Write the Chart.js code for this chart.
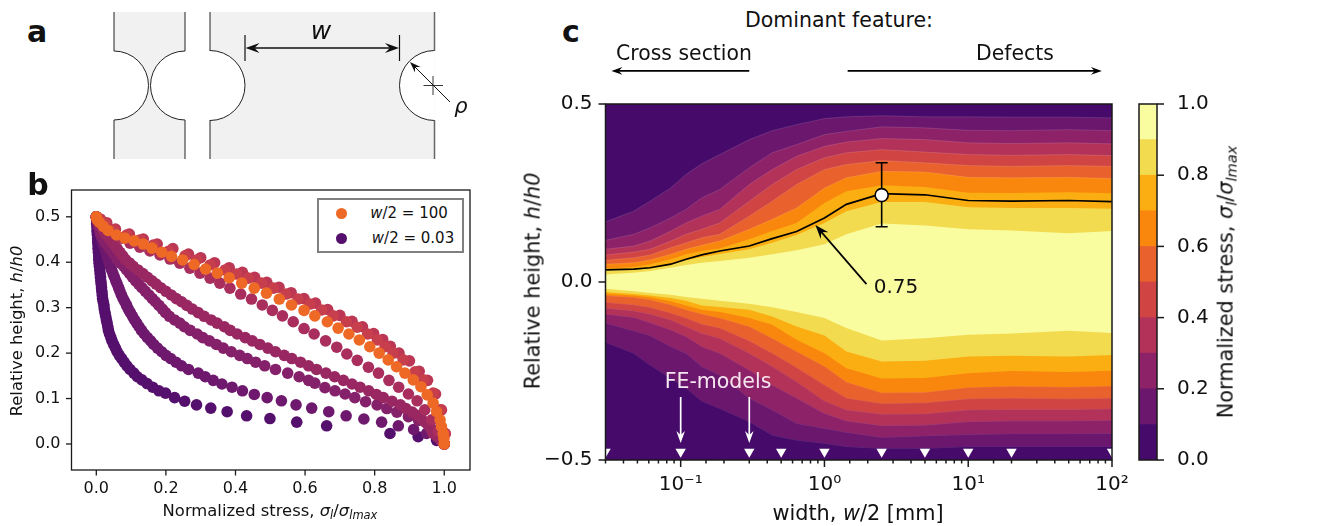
<!DOCTYPE html>
<html><head><meta charset="utf-8">
<script src="https://cdn.jsdelivr.net/npm/chart.js"></script>
<style>
html,body{margin:0;padding:0;background:#fff;width:1331px;height:526px;overflow:hidden}
canvas{position:absolute}
.t{position:absolute;font-family:"DejaVu Sans";color:#111;white-space:nowrap;transform:translate(-50%,-50%);line-height:1}
.r{transform:translate(-50%,-50%) rotate(-90deg)}
.t sub{font-size:.7em;vertical-align:-.25em;line-height:0}
#lg{position:absolute;left:317px;top:198px;width:143px;height:51px;border:2px solid #808080;background:#fff;z-index:3}
.dot{position:absolute;width:11px;height:11px;border-radius:50%}
</style></head><body>
<canvas id="ca" style="left:100px;top:0" width="380" height="170"></canvas>
<canvas id="cb" style="left:0;top:170px" width="480" height="356"></canvas>
<canvas id="cc" style="left:520px;top:60px" width="620" height="466"></canvas>
<canvas id="cd" style="left:1130px;top:90px" width="110" height="390"></canvas>
<div id="lg"><span class="dot" style="left:17px;top:8px;background:#ed6925"></span><span class="dot" style="left:17px;top:33px;background:#550f6d"></span>
<span class="t" style="left:90px;top:13px;font-size:15px"><i>w</i>/2 = 100</span><span class="t" style="left:94px;top:38px;font-size:15px"><i>w</i>/2 = 0.03</span></div>
<div id="texts"></div>
<script>
// ---------- panel b: stress profile series ----------
const bXTicks=[0,0.2,0.4,0.6,0.8,1.0], bYTicks=[0,0.1,0.2,0.3,0.4,0.5];
const s003x=[1,.978,.925,.844,.662,.576,.499,.432,.376,.329,.288,.254,.225,.199,.18,.162,.146,.131,.118,.108,.097,.088,.08,.073,.066,.06,.055,.05,.045,.042,.038,.035,.033,.031,.029,.027,.025,.023,.022,.02,.018,.017,.016,.015,.014,.013,.012,.011,.01,.009,.008,.007,.007,.006,.005,.005,.004,.004,.003,.002,.002,.001,.001,0];
const s003y=[0,.008,.016,.023,.04,.048,.056,.062,.071,.079,.086,.094,.102,.112,.117,.125,.133,.141,.148,.156,.164,.172,.18,.188,.195,.203,.211,.219,.227,.234,.242,.25,.258,.266,.273,.281,.289,.297,.305,.313,.32,.328,.336,.344,.352,.359,.367,.375,.383,.391,.398,.406,.414,.422,.43,.438,.445,.453,.461,.469,.477,.484,.492,.5];
const s01x=[0,.002,.004,.006,.009,.012,.015,.018,.021,.025,.028,.031,.034,.037,.04,.044,.048,.052,.056,.06,.064,.068,.072,.077,.082,.087,.092,.098,.104,.11,.116,.123,.13,.138,.147,.156,.165,.176,.188,.2,.214,.229,.245,.265,.293,.313,.336,.361,.39,.42,.454,.491,.532,.574,.619,.668,.718,.769,.82,.868,.912,.949,.978,.995,1];
const s01y=[.5,.492,.484,.477,.469,.461,.453,.445,.438,.43,.422,.414,.406,.398,.391,.383,.375,.367,.359,.352,.344,.336,.328,.32,.313,.305,.297,.289,.281,.273,.266,.258,.25,.242,.234,.227,.219,.211,.203,.195,.188,.18,.172,.164,.156,.148,.14,.132,.125,.117,.109,.102,.095,.086,.079,.071,.062,.055,.048,.04,.032,.023,.016,.008,0];
const s03x=[0,.002,.005,.008,.011,.013,.019,.025,.031,.039,.047,.054,.061,.07,.079,.087,.096,.104,.113,.122,.131,.141,.151,.161,.17,.18,.19,.199,.21,.225,.24,.253,.27,.29,.306,.325,.345,.365,.388,.412,.434,.458,.484,.515,.55,.583,.61,.628,.657,.686,.715,.743,.774,.807,.835,.864,.897,.926,.955,.975,.99,1];
const s03y=[.5,.492,.484,.477,.469,.461,.453,.445,.438,.43,.422,.414,.406,.398,.391,.383,.375,.367,.359,.352,.344,.336,.328,.32,.313,.305,.297,.289,.281,.273,.266,.258,.25,.242,.234,.227,.219,.211,.203,.195,.188,.18,.172,.164,.156,.148,.14,.134,.124,.117,.11,.102,.093,.086,.078,.07,.06,.052,.04,.03,.016,0];
const s1x=[0,.005,.01,.015,.021,.028,.036,.045,.052,.06,.068,.076,.084,.096,.106,.12,.134,.147,.16,.172,.185,.2,.215,.23,.245,.26,.276,.293,.31,.33,.347,.368,.385,.405,.428,.448,.47,.493,.515,.54,.562,.587,.61,.633,.66,.685,.71,.735,.758,.783,.805,.825,.85,.874,.89,.908,.922,.935,.947,.957,.963,.968,.98,.99,1];
const s1y=[.5,.492,.484,.477,.469,.461,.453,.445,.438,.43,.422,.414,.406,.398,.391,.383,.375,.367,.359,.352,.344,.336,.328,.32,.313,.305,.297,.289,.281,.273,.266,.258,.25,.242,.234,.227,.219,.211,.203,.195,.188,.18,.172,.164,.156,.148,.14,.132,.125,.117,.109,.102,.094,.086,.078,.07,.063,.055,.047,.039,.031,.023,.016,.008,0];
const s25x=[0,.01,.025,.049,.073,.097,.125,.154,.183,.212,.24,.269,.298,.327,.355,.384,.415,.446,.477,.506,.535,.566,.597,.626,.659,.691,.72,.75,.782,.811,.841,.869,.897,.922,.944,.964,.983,1];
const s25y=[.5,.49,.479,.464,.453,.442,.433,.425,.416,.407,.398,.387,.376,.365,.354,.343,.33,.319,.306,.294,.282,.269,.254,.242,.227,.213,.198,.184,.169,.156,.14,.125,.11,.095,.075,.053,.027,0];
const s20x=[0,.012,.03,.055,.095,.135,.175,.22,.265,.3,.34,.382,.42,.455,.49,.525,.56,.597,.63,.665,.7,.735,.765,.797,.823,.845,.87,.9,.928,.952,.975,.992,1.003,1];
const s20y=[.5,.495,.487,.473,.462,.451,.44,.43,.418,.41,.399,.388,.378,.367,.356,.345,.333,.32,.31,.296,.283,.27,.258,.243,.23,.215,.2,.183,.16,.14,.11,.075,.023,0];
const s10x=[0,.01,.025,.049,.087,.125,.164,.207,.255,.288,.327,.37,.403,.437,.475,.509,.545,.58,.614,.648,.681,.719,.75,.78,.808,.83,.853,.882,.916,.94,.968,.988,1.002,1];
const s10y=[.5,.493,.486,.471,.46,.449,.438,.424,.414,.405,.394,.383,.374,.365,.354,.343,.33,.319,.308,.295,.282,.269,.257,.242,.229,.214,.2,.185,.159,.141,.112,.075,.023,0];
const s100x=[1,.999,.997,.992,.988,.978,.968,.951,.933,.911,.887,.863,.839,.813,.786,.756,.726,.695,.664,.628,.597,.561,.526,.489,.454,.418,.382,.348,.314,.281,.248,.216,.188,.16,.135,.109,.082,.058,.034,.02,.009,.003,0];
const s100y=[0,.012,.023,.038,.053,.071,.09,.108,.126,.141,.156,.17,.185,.2,.214,.229,.242,.255,.269,.282,.294,.306,.319,.332,.343,.354,.366,.376,.385,.395,.405,.413,.422,.431,.44,.447,.453,.46,.47,.479,.488,.493,.5];
const profiles=[[s003x,s003y,'#550f6d'],[s01x,s01y,'#6e186e'],[s03x,s03y,'#85206a'],[s1x,s1y,'#992762'],[s25x,s25y,'#a92e5e'],[s20x,s20y,'#bb3754'],[s10x,s10y,'#c73e4c'],[s100x,s100y,'#ed6925']];

// ---------- panel c: filled contours (boundaries of each stress level) ----------
const widths=[.03,.0472,.0612,.0852,.109,.14,.187,.3,.433,.64,1,1.42,2.5,5,10,20,50,100];
const levelColors=['#460b6a','#6b176e','#8e2269','#b2325a','#d04544','#e9612c','#fa870d','#fbae12','#f3db4f','#fafca0'];
const top0=[.5,.5,.5,.5,.5,.5,.5,.5,.5,.5,.5,.5,.5,.5,.5,.5,.5,.5];
const bot0=[-.5,-.5,-.5,-.5,-.5,-.5,-.5,-.5,-.5,-.5,-.5,-.5,-.5,-.5,-.5,-.5,-.5,-.5];
const top1=[.169,.199,.227,.264,.302,.332,.358,.4,.425,.442,.459,.464,.467,.464,.464,.463,.463,.461];
const top2=[.117,.134,.152,.18,.204,.236,.26,.321,.363,.386,.414,.423,.436,.433,.426,.425,.428,.425];
const top3=[.092,.101,.115,.143,.166,.185,.204,.274,.316,.353,.381,.393,.403,.4,.391,.389,.391,.388];
const top4=[.076,.084,.092,.115,.134,.148,.166,.227,.274,.316,.349,.363,.372,.365,.358,.356,.358,.355];
const top5=[.061,.068,.076,.096,.11,.124,.134,.185,.227,.274,.316,.33,.341,.335,.327,.325,.327,.325];
const top6=[.05,.054,.062,.078,.092,.103,.115,.148,.176,.208,.264,.293,.311,.309,.294,.293,.294,.291];
const top7=[.038,.042,.05,.064,.078,.087,.094,.12,.143,.166,.222,.255,.272,.267,.251,.25,.252,.249];
const top8=[.033,.036,.038,.048,.061,.07,.079,.092,.11,.132,.166,.199,.225,.225,.21,.208,.208,.206];
const top9=[.021,.026,.031,.04,.048,.054,.059,.068,.078,.089,.106,.134,.164,.159,.148,.145,.137,.143];
const bot9=[-.019,-.026,-.031,-.036,-.042,-.047,-.053,-.061,-.071,-.084,-.101,-.129,-.164,-.158,-.148,-.145,-.137,-.143];
const bot8=[-.028,-.034,-.038,-.045,-.053,-.066,-.07,-.078,-.097,-.125,-.15,-.195,-.223,-.221,-.209,-.207,-.209,-.205];
const bot7=[-.033,-.038,-.043,-.054,-.066,-.078,-.084,-.101,-.12,-.162,-.2,-.242,-.271,-.27,-.256,-.25,-.253,-.249];
const bot6=[-.038,-.043,-.05,-.064,-.078,-.09,-.101,-.125,-.158,-.195,-.237,-.281,-.311,-.31,-.296,-.293,-.295,-.292];
const bot5=[-.057,-.064,-.071,-.087,-.101,-.118,-.129,-.165,-.2,-.24,-.289,-.326,-.341,-.339,-.328,-.326,-.328,-.326];
const bot4=[-.073,-.081,-.09,-.106,-.125,-.144,-.158,-.2,-.237,-.28,-.334,-.359,-.371,-.37,-.359,-.358,-.358,-.356];
const bot3=[-.09,-.099,-.114,-.134,-.153,-.181,-.2,-.247,-.289,-.326,-.369,-.39,-.403,-.402,-.392,-.39,-.39,-.388];
const bot2=[-.115,-.137,-.15,-.181,-.2,-.237,-.261,-.326,-.359,-.397,-.411,-.422,-.436,-.432,-.428,-.426,-.426,-.425];
const bot1=[-.169,-.2,-.233,-.27,-.298,-.334,-.355,-.392,-.43,-.444,-.453,-.462,-.467,-.467,-.462,-.462,-.462,-.462];
const tops=[top0,top1,top2,top3,top4,top5,top6,top7,top8,top9];
const bots=[bot0,bot1,bot2,bot3,bot4,bot5,bot6,bot7,bot8,bot9];
const line075=[.034,.036,.04,.05,.064,.076,.087,.101,.122,.142,.18,.218,.248,.245,.229,.227,.229,.226];
const feWidths=[.03,.1,.3,.5,1,2.5,5,10,20,100];
const feMarkerY=[-.477,-.477,-.477,-.477,-.477,-.477,-.477,-.477,-.477,-.477];
const errX=[2.5,2.5], errY=[.155,.335];
const markX=[2.5], markY=[.244];
const cYTicks=[-.5,0,.5];
const cXExponentLabels={'-1':'10⁻¹','0':'10⁰','1':'10¹','2':'10²'};
// annotation arrows in data units: x0,y0 -> x1,y1
const cArrows=[[.1,-.323,.1,-.452,'#fff',12],[.3,-.323,.3,-.452,'#fff',12],[1.96,-.006,.865,.16,'#000',14],[.3,.593,.033,.593,'#000',11],[1.45,.593,85,.593,'#000',11]];
// ---------- colour bar ----------
const cbSteps=[.1,.1,.1,.1,.1,.1,.1,.1,.1,.1];
const cbTicks=[0,.2,.4,.6,.8,1];
// ---------- panel a schematic geometry (drawing units) ----------
const aPieces=[[114,185],[210,434.5]];
const aTop=12,aBot=159,aMid=85.5,aR=[34.5,34.5,35,35],aNotchStart=51,aNotchEnd=120;

const FONT='"DejaVu Sans"';
function arrow(ctx,x0,y0,x1,y1,color,len,lw){
  const a=Math.atan2(y1-y0,x1-x0);
  ctx.save();ctx.strokeStyle=color;ctx.fillStyle=color;ctx.lineWidth=lw||1.7;
  ctx.beginPath();ctx.moveTo(x0,y0);ctx.lineTo(x1-Math.cos(a)*len*.5,y1-Math.sin(a)*len*.5);ctx.stroke();
  ctx.translate(x1,y1);ctx.rotate(a);
  ctx.beginPath();ctx.moveTo(0,0);ctx.lineTo(-len,-len*.36);ctx.lineTo(-len*.65,0);ctx.lineTo(-len,len*.36);ctx.closePath();ctx.fill();
  ctx.restore();
}
const frameTicks={id:'frameTicks',afterDraw(chart,_a,o){
  const c=chart.ctx,A=chart.chartArea;c.save();
  c.strokeStyle='#1a1a1a';c.lineWidth=o.lw||1.3;
  c.strokeRect(A.left,A.top,A.right-A.left,A.bottom-A.top);
  for(const id of Object.keys(chart.scales)){
    const s=chart.scales[id];if(!s.options.display)continue;
    s.ticks.forEach((t,i)=>{
      const isLog=s.type==='logarithmic';
      const maj=!isLog||Math.abs(Math.log10(t.value)-Math.round(Math.log10(t.value)))<1e-9;
      const L=maj?o.major:o.minor,p=s.getPixelForTick(i);
      c.beginPath();
      if(s.isHorizontal()){c.moveTo(p,A.bottom);c.lineTo(p,A.bottom+L);}
      else if(s.position==='right'){c.moveTo(A.right,p);c.lineTo(A.right+L,p);}
      else{c.moveTo(A.left,p);c.lineTo(A.left-L,p);}
      c.stroke();
    });
  }
  c.restore();
}};
const base={responsive:false,animation:false,events:[],plugins:{legend:{display:false},tooltip:{enabled:false}}};
function noPad(s){s.paddingLeft=0;s.paddingRight=0;s.paddingTop=0;s.paddingBottom=0;}
function fit(v){return function(s){s.width=v;noPad(s);};}
function fitH(v){return function(s){s.height=v;noPad(s);};}

// panel a
new Chart(document.getElementById('ca'),{type:'scatter',data:{datasets:[]},options:{...base,
  layout:{padding:0},
  scales:{x:{type:'linear',display:false,min:100,max:480},y:{type:'linear',display:false,min:0,max:170,reverse:true}}},
  plugins:[{id:'schem',afterDraw(chart){
    const c=chart.ctx,X=chart.scales.x,Y=chart.scales.y,sx=v=>X.getPixelForValue(v),sy=v=>Y.getPixelForValue(v);
    c.save();
    c.fillStyle='#f1f1f1';
    aPieces.forEach(p=>c.fillRect(sx(p[0]),sy(aTop),sx(p[1])-sx(p[0]),sy(aBot)-sy(aTop)));
    const notch=[[aPieces[0][0],aR[0],-Math.PI/2,Math.PI/2],[aPieces[0][1],aR[1],Math.PI/2,1.5*Math.PI],[aPieces[1][0],aR[2],-Math.PI/2,Math.PI/2],[aPieces[1][1],aR[3],Math.PI/2,1.5*Math.PI]];
    c.fillStyle='#fff';
    notch.forEach(n=>{c.beginPath();c.arc(sx(n[0]),sy(aMid),n[1],n[2],n[3]);c.closePath();c.fill();});
    c.strokeStyle='#222';c.lineWidth=1;
    notch.forEach(n=>{c.beginPath();c.arc(sx(n[0]),sy(aMid),n[1],n[2],n[3]);c.stroke();});
    aPieces.flat().forEach((e,i)=>{c.strokeStyle=i===3?'#666':'#222';c.lineWidth=i===3?1.5:1;c.beginPath();c.moveTo(sx(e),sy(aTop));c.lineTo(sx(e),sy(aNotchStart));c.moveTo(sx(e),sy(aNotchEnd));c.lineTo(sx(e),sy(aBot));c.stroke();});
    c.strokeStyle='#111';c.lineWidth=1.2;
    [245,399.5].forEach(e=>{c.beginPath();c.moveTo(sx(e),sy(35));c.lineTo(sx(e),sy(61));c.stroke();});
    arrow(c,sx(322),sy(48),sx(245.5),sy(48),'#111',14,1.3);
    arrow(c,sx(322),sy(48),sx(399),sy(48),'#111',14,1.3);
    c.strokeStyle='#222';c.lineWidth=.9;
    c.beginPath();c.moveTo(sx(423.5),sy(85.5));c.lineTo(sx(443),sy(85.5));c.moveTo(sx(433),sy(76));c.lineTo(sx(433),sy(95));c.stroke();
    arrow(c,sx(450),sy(102),sx(410),sy(62),'#111',11,1);
    c.restore();
  }}]});

// panel b
new Chart(document.getElementById('cb'),{type:'scatter',
  data:{datasets:profiles.map((p,i)=>({data:p[0].map((x,j)=>({x,y:p[1][j]})),backgroundColor:p[2],pointRadius:5.8,pointBorderWidth:0,showLine:false,order:10-i,clip:false}))},
  options:{...base,layout:{padding:{top:20,right:10}},plugins:{...base.plugins,frameTicks:{major:5.5,minor:3,lw:1.3}},
    scales:{
      x:{type:'linear',min:-.0713,max:1.074,grid:{display:false,tickLength:6},border:{display:false},afterFit:fitH(56),
         afterBuildTicks(s){s.ticks=bXTicks.map(value=>({value}));},
         ticks:{font:{family:FONT,size:16},color:'#111',padding:3,maxRotation:0,autoSkip:false,callback:v=>v.toFixed(1)}},
      y:{type:'linear',min:-.0573,max:.559,grid:{display:false,tickLength:6},border:{display:false},afterFit:fit(71.5),
         afterBuildTicks(s){s.ticks=bYTicks.map(value=>({value}));},
         ticks:{font:{family:FONT,size:16},color:'#111',padding:5,autoSkip:false,callback:v=>v.toFixed(1)}}
    }},plugins:[frameTicks]});

// panel c
const pts=a=>widths.map((x,i)=>({x,y:a[i]}));
const cSets=[];
tops.forEach((t,k)=>{
  const idx=cSets.length;
  const edge=k>0&&k<=6?'rgba(255,255,255,.22)':'rgba(0,0,0,0)';
  cSets.push({type:'line',data:pts(t),fill:idx+1,backgroundColor:levelColors[k],borderColor:edge,borderWidth:.6,pointRadius:0,tension:0,order:100-k});
  cSets.push({type:'line',data:pts(bots[k]),fill:false,borderColor:edge,borderWidth:.6,pointRadius:0,tension:0,order:100-k});
});
cSets.push({type:'line',data:pts(line075),fill:false,borderColor:'#000',borderWidth:1.7,pointRadius:0,tension:0,order:5});
cSets.push({type:'line',data:errX.map((x,i)=>({x,y:errY[i]})),fill:false,borderColor:'#000',borderWidth:1.6,pointStyle:'line',pointRadius:6,pointBorderColor:'#000',pointBorderWidth:1.6,tension:0,order:4});
cSets.push({type:'scatter',data:markX.map((x,i)=>({x,y:markY[i]})),backgroundColor:'#fff',borderColor:'#000',pointRadius:6.5,pointBorderWidth:1.6,order:3});
cSets.push({type:'scatter',data:feWidths.map((x,i)=>({x,y:feMarkerY[i]})),backgroundColor:'#fff',pointStyle:'triangle',rotation:180,pointRotation:180,pointRadius:6,pointBorderWidth:0,order:2});
new Chart(document.getElementById('cc'),{data:{datasets:cSets},
  options:{...base,layout:{padding:{top:44,right:28}},plugins:{...base.plugins,frameTicks:{major:7,minor:3.5,lw:1.5}},
    scales:{
      x:{type:'logarithmic',min:.03,max:100,grid:{display:false,tickLength:7},border:{display:false},afterFit:fitH(66),
         ticks:{font:{family:FONT,size:20},color:'#111',padding:6,maxRotation:0,autoSkip:false,
           callback(v){const e=Math.log10(v),r=Math.round(e);return Math.abs(e-r)<1e-9?cXExponentLabels[r]:'';}}},
      y:{type:'linear',min:-.5,max:.5,grid:{display:false,tickLength:7},border:{display:false},afterFit:fit(85.5),
         afterBuildTicks(s){s.ticks=cYTicks.map(value=>({value}));},
         ticks:{font:{family:FONT,size:20},color:'#111',padding:6,autoSkip:false,callback:v=>v<0?'−'+Math.abs(v).toFixed(1):v.toFixed(1)}}
    }},plugins:[frameTicks,{id:'ann',afterDraw(chart){
      const X=chart.scales.x,Y=chart.scales.y;
      cArrows.forEach(a=>arrow(chart.ctx,X.getPixelForValue(a[0]),Y.getPixelForValue(a[1]),X.getPixelForValue(a[2]),Y.getPixelForValue(a[3]),a[4],a[5]));
    }}]});

// colour bar
new Chart(document.getElementById('cd'),{type:'bar',
  data:{labels:['stress'],datasets:cbSteps.map((v,i)=>({data:[v],backgroundColor:levelColors[i],borderWidth:0,barPercentage:1,categoryPercentage:1}))},
  options:{...base,layout:{padding:{left:9,top:14,bottom:20}},plugins:{...base.plugins,frameTicks:{major:7,minor:7,lw:1.5}},
    scales:{
      x:{display:false,stacked:true},
      y:{position:'right',stacked:true,min:0,max:1,grid:{display:false,tickLength:7},border:{display:false},afterFit:fit(83),
         afterBuildTicks(s){s.ticks=cbTicks.map(value=>({value}));},
         ticks:{font:{family:FONT,size:20},color:'#111',padding:13,autoSkip:false,callback:v=>v.toFixed(1)}}
    }},plugins:[frameTicks]});

// text labels
const sig='<i>σ<sub>l</sub></i>/<i>σ<sub>lmax</sub></i>';
const labels=[
 ['a',37,32,30,'b'],['b',38,185,30,'b'],['c',571,32,30,'b'],
 ['<i>w</i>',321,30,25],['<i>ρ</i>',461,106,21],
 ['Relative height, <i>h</i>/<i>h0</i>',17,331,16.4,'r'],
 ['Normalized stress, '+sig,270,511,16.4],
 ['Dominant feature:',839,20,20.5],
 ['Cross section',684,53,20.4],['Defects',1015,53,20.4],
 ['Relative height, <i>h</i>/<i>h0</i>',533,281,20.8,'r'],
 ['width, <i>w</i>/2 [mm]',858,513,20.8],
 ['Normalized stress, '+sig,1226,282,20.8,'r'],
 ['0.75',896,286,20],
 ['<span style="color:#f6e6f0">FE-models</span>',718,381,20.5]
];
document.getElementById('texts').innerHTML=labels.map(l=>`<div class="t${l[4]==='r'?' r':''}" style="left:${l[1]}px;top:${l[2]}px;font-size:${l[3]}px;${l[4]==='b'?'font-weight:bold;':''}">${l[0]}</div>`).join('');
</script>
</body></html>
